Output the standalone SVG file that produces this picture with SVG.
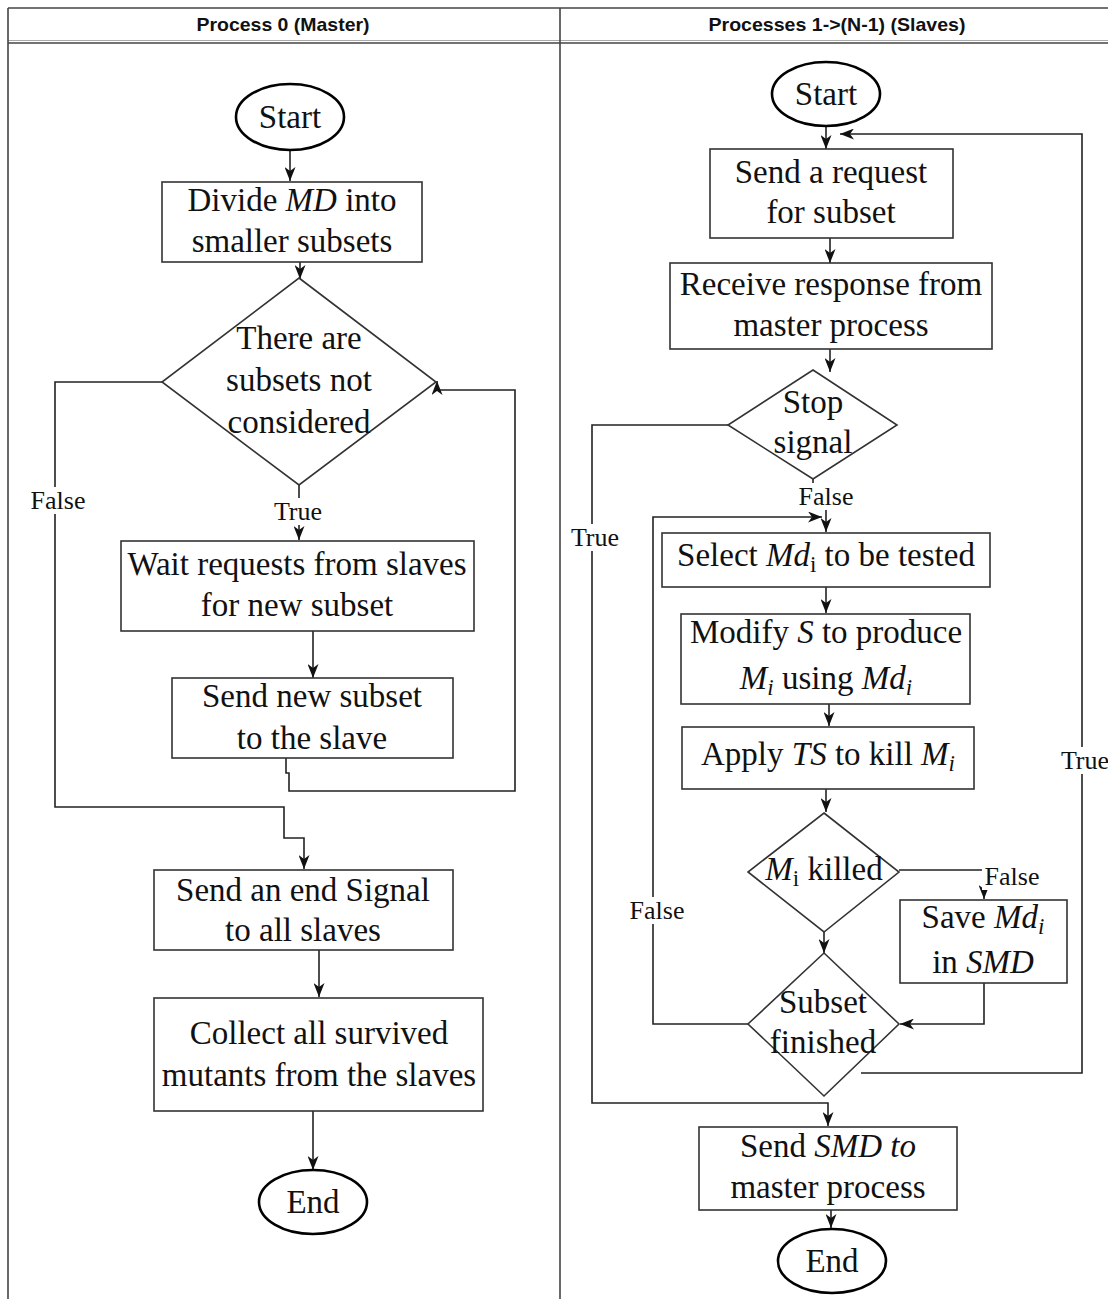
<svg xmlns="http://www.w3.org/2000/svg" width="1108" height="1299" viewBox="0 0 1108 1299">
<style>
.frame{stroke:#444;stroke-width:1.6;fill:none}
.box{fill:#fff;stroke:#333;stroke-width:1.6}
.term{fill:#fff;stroke:#000;stroke-width:2.6}
.conn{fill:none;stroke:#222;stroke-width:1.6}
.t{font-family:"Liberation Serif","Times New Roman",serif;font-size:33px;text-anchor:middle;fill:#111}
.lbl{font-family:"Liberation Serif","Times New Roman",serif;font-size:26px;text-anchor:middle;fill:#111}
.hd{font-family:"Liberation Sans",Arial,sans-serif;font-size:19px;font-weight:bold;text-anchor:middle;fill:#111}
.i{font-style:italic}
.lb{fill:#fff;stroke:none}
</style>
<defs>
<marker id="ah" viewBox="0 0 14 11" refX="14" refY="5.5" markerWidth="14" markerHeight="11" markerUnits="userSpaceOnUse" orient="auto">
<path d="M0,0 L14,5.5 L0,11 L4,5.5 z" fill="#111"/>
</marker>
</defs>
<rect width="1108" height="1299" fill="#fff"/>
<g id="frame">
<line class="frame" x1="8" y1="8" x2="1108" y2="8"/>
<line x1="8" y1="40.5" x2="1108" y2="40.5" stroke="#aaa" stroke-width="1"/>
<line class="frame" x1="8" y1="43" x2="1108" y2="43" stroke-width="2"/>
<line class="frame" x1="8" y1="8" x2="8" y2="1299"/>
<line class="frame" x1="560" y1="8" x2="560" y2="1299"/>
<text class="hd" x="283" y="31" textLength="173" lengthAdjust="spacingAndGlyphs">Process 0 (Master)</text>
<text class="hd" x="837" y="31" textLength="257" lengthAdjust="spacingAndGlyphs">Processes 1-&gt;(N-1) (Slaves)</text>
</g>
<g id="connectors">
<path class="conn" d="M290,151 V181" marker-end="url(#ah)"/>
<path class="conn" d="M300,262 V279" marker-end="url(#ah)"/>
<path class="conn" d="M299,485 V540" marker-end="url(#ah)"/>
<path class="conn" d="M313,631 V678" marker-end="url(#ah)"/>
<path class="conn" d="M286,758 V773 H289 V791 H515 V390 H437 V381" marker-end="url(#ah)"/>
<path class="conn" d="M162,382 H55 V807 H284 V838 H304 V869" marker-end="url(#ah)"/>
<path class="conn" d="M319,950 V997" marker-end="url(#ah)"/>
<path class="conn" d="M313,1111 V1170" marker-end="url(#ah)"/>
<path class="conn" d="M826,127 V149" marker-end="url(#ah)"/>
<path class="conn" d="M830,238 V263" marker-end="url(#ah)"/>
<path class="conn" d="M830,349 V372" marker-end="url(#ah)"/>
<path class="conn" d="M728,425 H592 V1103 H828 V1126" marker-end="url(#ah)"/>
<path class="conn" d="M813,479 V495 H826 V532" marker-end="url(#ah)"/>
<path class="conn" d="M826,587 V613" marker-end="url(#ah)"/>
<path class="conn" d="M829,704 V726" marker-end="url(#ah)"/>
<path class="conn" d="M826,789 V812" marker-end="url(#ah)"/>
<path class="conn" d="M899,870 H984 V899" marker-end="url(#ah)"/>
<path class="conn" d="M824,932 V953" marker-end="url(#ah)"/>
<path class="conn" d="M984,983 V1024 H900" marker-end="url(#ah)"/>
<path class="conn" d="M748,1024 H653 V517 H822" marker-end="url(#ah)"/>
<path class="conn" d="M861,1073 H1082 V134 H840" marker-end="url(#ah)"/>
<path class="conn" d="M831,1210 V1228" marker-end="url(#ah)"/>
</g>
<g id="labels">
<rect class="lb" x="273" y="498" width="52" height="27"/>
<text class="lbl" x="298" y="520">True</text>
<rect class="lb" x="28" y="487" width="62" height="27"/>
<text class="lbl" x="58" y="509">False</text>
<rect class="lb" x="796" y="483" width="60" height="27"/>
<text class="lbl" x="826" y="505">False</text>
<rect class="lb" x="569" y="524" width="52" height="27"/>
<text class="lbl" x="595" y="546">True</text>
<rect class="lb" x="982" y="863" width="60" height="27"/>
<text class="lbl" x="1012" y="885">False</text>
<rect class="lb" x="627" y="897" width="60" height="27"/>
<text class="lbl" x="657" y="919">False</text>
<rect class="lb" x="1059" y="747" width="52" height="27"/>
<text class="lbl" x="1085" y="769">True</text>
</g>
<g id="m-start">
<ellipse class="term" cx="290" cy="117" rx="54" ry="33"/>
<text class="t" x="290" y="128">Start</text>
</g>
<g id="m-divide">
<rect class="box" x="162" y="182" width="260" height="80"/>
<text class="t" x="292" y="211">Divide <tspan class="i">MD</tspan> into</text>
<text class="t" x="292" y="252">smaller subsets</text>
</g>
<g id="m-subsets">
<polygon class="box" points="299,278 436,382 299,485 162,382"/>
<text class="t" x="299" y="349">There are</text>
<text class="t" x="299" y="391">subsets not</text>
<text class="t" x="299" y="433">considered</text>
</g>
<g id="m-wait">
<rect class="box" x="121" y="541" width="353" height="90"/>
<text class="t" x="297" y="575">Wait requests from slaves</text>
<text class="t" x="297" y="616">for new subset</text>
</g>
<g id="m-sendnew">
<rect class="box" x="172" y="678" width="281" height="80"/>
<text class="t" x="312" y="707">Send new subset</text>
<text class="t" x="312" y="749">to the slave</text>
</g>
<g id="m-endsignal">
<rect class="box" x="154" y="870" width="299" height="80"/>
<text class="t" x="303" y="901">Send an end Signal</text>
<text class="t" x="303" y="941">to all slaves</text>
</g>
<g id="m-collect">
<rect class="box" x="154" y="998" width="329" height="113"/>
<text class="t" x="319" y="1044">Collect all survived</text>
<text class="t" x="319" y="1086">mutants from the slaves</text>
</g>
<g id="m-end">
<ellipse class="term" cx="313" cy="1202" rx="54" ry="32"/>
<text class="t" x="313" y="1213">End</text>
</g>
<g id="s-start">
<ellipse class="term" cx="826" cy="94" rx="54" ry="32"/>
<text class="t" x="826" y="105">Start</text>
</g>
<g id="s-request">
<rect class="box" x="710" y="149" width="243" height="89"/>
<text class="t" x="831" y="183">Send a request</text>
<text class="t" x="831" y="223">for subset</text>
</g>
<g id="s-receive">
<rect class="box" x="670" y="263" width="322" height="86"/>
<text class="t" x="831" y="295">Receive response from</text>
<text class="t" x="831" y="336">master process</text>
</g>
<g id="s-stop">
<polygon class="box" points="813,370 897,425 813,479 728,425"/>
<text class="t" x="813" y="413">Stop</text>
<text class="t" x="813" y="453">signal</text>
</g>
<g id="s-select">
<rect class="box" x="662" y="533" width="328" height="54"/>
<text class="t" x="826" y="566">Select <tspan class="i">Md</tspan><tspan font-size="23" dy="6">i</tspan><tspan dy="-6"> to be tested</tspan></text>
</g>
<g id="s-modify">
<rect class="box" x="681" y="614" width="289" height="90"/>
<text class="t" x="826" y="643">Modify <tspan class="i">S</tspan> to produce</text>
<text class="t" x="826" y="689"><tspan class="i">M</tspan><tspan class="i" font-size="23" dy="6">i</tspan><tspan dy="-6"> using </tspan><tspan class="i">Md</tspan><tspan class="i" font-size="23" dy="6">i</tspan></text>
</g>
<g id="s-apply">
<rect class="box" x="682" y="727" width="292" height="62"/>
<text class="t" x="828" y="765">Apply <tspan class="i">TS</tspan> to kill <tspan class="i">M</tspan><tspan class="i" font-size="23" dy="6">i</tspan></text>
</g>
<g id="s-killed">
<polygon class="box" points="824,813 899,872 824,932 748,872"/>
<text class="t" x="824" y="880"><tspan class="i">M</tspan><tspan font-size="23" dy="6">i</tspan><tspan dy="-6"> killed</tspan></text>
</g>
<g id="s-save">
<rect class="box" x="900" y="900" width="167" height="83"/>
<text class="t" x="983" y="928">Save <tspan class="i">Md</tspan><tspan class="i" font-size="23" dy="6">i</tspan></text>
<text class="t" x="983" y="973">in <tspan class="i">SMD</tspan></text>
</g>
<g id="s-finished">
<polygon class="box" points="824,953 899,1024 824,1096 748,1024"/>
<text class="t" x="823" y="1013">Subset</text>
<text class="t" x="823" y="1053">finished</text>
</g>
<g id="s-sendsmd">
<rect class="box" x="699" y="1127" width="258" height="83"/>
<text class="t" x="828" y="1157">Send <tspan class="i">SMD to</tspan></text>
<text class="t" x="828" y="1198">master process</text>
</g>
<g id="s-end">
<ellipse class="term" cx="832" cy="1261" rx="54" ry="32"/>
<text class="t" x="832" y="1272">End</text>
</g>
</svg>
